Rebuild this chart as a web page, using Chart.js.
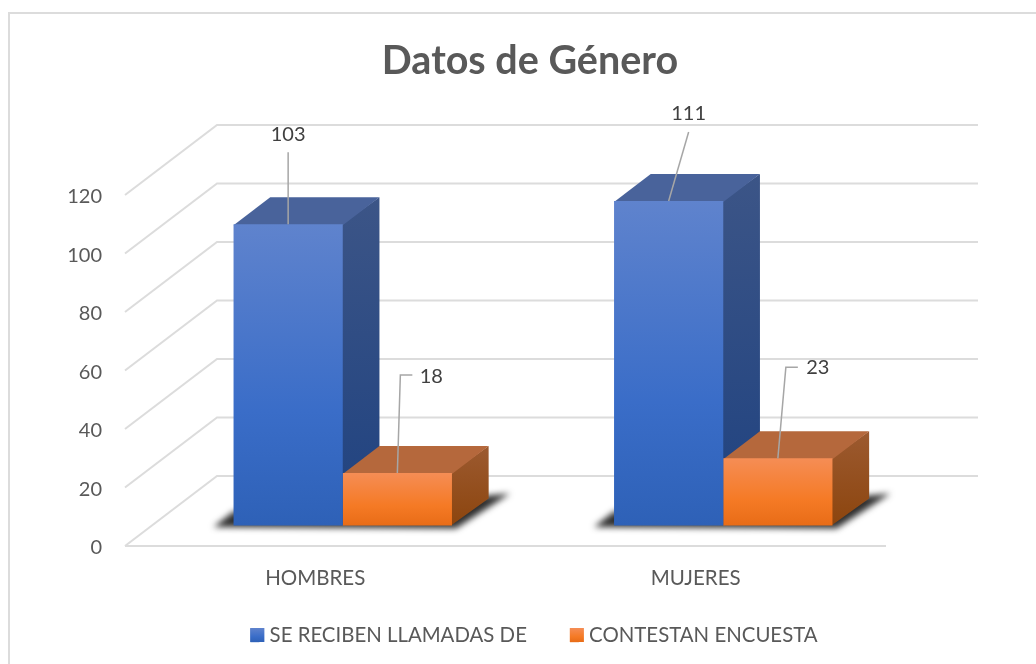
<!DOCTYPE html>
<html><head><meta charset="utf-8">
<style>html,body{margin:0;padding:0;background:#fff}canvas{display:block}</style>
<script src="https://cdn.jsdelivr.net/npm/chart.js@4"></script>
</head><body>
<div style="width:1036px;height:664px;position:relative"><canvas id="c" width="1036" height="664"></canvas></div>
<script>
const categories = ["HOMBRES", "MUJERES"];
const seriesNames = ["SE RECIBEN LLAMADAS DE", "CONTESTAN ENCUESTA"];
const llamadas = [103, 111];
const encuesta = [18, 23];
const yTicks = [0, 20, 40, 60, 80, 100, 120];
const chartTitle = "Datos de Género";

const FONT = "Lato";
const GRID = "#dcdcdc";
const wall = {dx: 92, dy: -70};
const bar3d = {tx: 27.5, ty: -20.4, d: 36.7, e: 27};
const legendBox = {top: 628, size: 14, nativeWidth: 9, pad: 43, height: 40};
const palette = [
  {stops: ["#5f83cd", "#3a6dc8", "#2e61b7"], top: "#49639b", side: ["#3c5587", "#1f4280"]},
  {stops: ["#f58d55", "#f57a25", "#e86c17"], top: "#b5683c", side: ["#9c5a30", "#8c450e"]}
];
// leader lines, relative to the top centre of each bar's front face
const leaders = [
  [{pts: [[0, 0], [0, -72]], label: [0, -90]}, {pts: [[0, 0], [20, -69]], label: [20, -87]}],
  [{pts: [[0, 0], [3, -98], [15, -98]], label: [34, -96]}, {pts: [[0, 0], [8, -91], [20, -91]], label: [40, -91]}]
];

function legendGradient(c, i) {
  const p = palette[i], g = c.createLinearGradient(0, legendBox.top, 0, legendBox.top + legendBox.size);
  g.addColorStop(0, p.stops[0]); g.addColorStop(0.62, p.stops[1]); g.addColorStop(1, p.stops[2]);
  return g;
}
function frontFill(i) {
  return function (ctx) {
    const c = ctx.chart.ctx, p = palette[i];
    let y0 = NaN, y1 = NaN;
    if (ctx.dataIndex !== undefined && ctx.chart.scales.y) {
      y0 = ctx.chart.scales.y.getPixelForValue(ctx.dataset.data[ctx.dataIndex]);
      y1 = ctx.chart.scales.y.getPixelForValue(0);
    }
    if (!Number.isFinite(y0) || !Number.isFinite(y1)) return legendGradient(c, i);
    const g = c.createLinearGradient(0, y0, 0, y1);
    g.addColorStop(0, p.stops[0]); g.addColorStop(0.62, p.stops[1]); g.addColorStop(1, p.stops[2]);
    return g;
  };
}
function poly(c, pts, fill) {
  c.beginPath(); pts.forEach((q, i) => i ? c.lineTo(q[0], q[1]) : c.moveTo(q[0], q[1]));
  c.closePath(); c.fillStyle = fill; c.fill();
}
const scene = {
  id: "scene",
  beforeLayout(chart) {
    const lg = chart.legend;
    if (!lg._fixed) {
      const f = lg.fit;
      lg.fit = function () { f.call(this); this.height = legendBox.height; };
      lg._fixed = true;
    }
  },
  afterLayout(chart) {
    const lg = chart.legend, t = chart.titleBlock, S = 91;
    lg.left += S; lg.right += S;
    lg.legendHitBoxes.forEach(h => { h.left += S; });
    lg.top = legendBox.top + legendBox.size / 2 - legendBox.pad - 10;
    t.left += 87; t.right += 87;
    chart.scales.y.getLabelItems(chart.chartArea).forEach(it => { it.options.translation[1] += 2; });
  },
  beforeDraw(chart) {
    const c = chart.ctx;
    c.save();
    c.fillStyle = "#fff"; c.fillRect(0, 0, chart.width, chart.height);
    c.strokeStyle = GRID; c.lineWidth = 2;
    c.beginPath(); c.moveTo(9, 664); c.lineTo(9, 13); c.lineTo(1036, 13); c.stroke();
    const y = chart.scales.y, a = chart.chartArea;
    yTicks.forEach(t => {
      const py = y.getPixelForValue(t);
      c.beginPath(); c.moveTo(a.left, py); c.lineTo(a.left + wall.dx, py + wall.dy);
      c.lineTo(a.right + wall.dx, py + wall.dy);
      if (t === 0) { c.moveTo(a.left, py); c.lineTo(a.right, py); }
      c.stroke();
    });
    c.restore();
  },
  beforeDatasetsDraw(chart) {
    const c = chart.ctx, m0 = chart.getDatasetMeta(0).data, m1 = chart.getDatasetMeta(1).data;
    c.save();
    c.filter = "blur(3px)";
    m0.forEach((b, i) => {
      const L = b.x - b.width / 2 + bar3d.tx, R = m1[i].x + m1[i].width / 2 + bar3d.tx, B = b.base + bar3d.ty;
      poly(c, [[L - 20, B + 1.5], [R + 4, B + 3], [R + 58, B - 32], [R + bar3d.d, B - bar3d.e - 3], [L, B - 14]], "rgba(35,35,35,.95)");
    });
    c.filter = "none";
    [0, 1].forEach(i => {
      const p = palette[i];
      chart.getDatasetMeta(i).data.forEach(b => {
        const l = b.x - b.width / 2 + bar3d.tx, r = b.x + b.width / 2 + bar3d.tx;
        const t = b.y + bar3d.ty, bt = b.base + bar3d.ty, d = bar3d.d, e = bar3d.e;
        const g = c.createLinearGradient(0, t - e, 0, bt);
        g.addColorStop(0, p.side[0]); g.addColorStop(1, p.side[1]);
        poly(c, [[r - 1, t], [r + d, t - e], [r + d, bt - e], [r - 1, bt]], g);
        poly(c, [[l, t + 1], [l + d, t - e], [r + d, t - e], [r, t + 1]], p.top);
      });
    });
    c.restore();
  },
  beforeDatasetDraw(chart) {
    chart.ctx.save();
    chart.ctx.translate(bar3d.tx, bar3d.ty);
  },
  afterDatasetDraw(chart) { chart.ctx.restore(); },
  afterDatasetsDraw(chart) {
    const c = chart.ctx;
    c.save();
    c.font = "20px " + FONT; c.textAlign = "center"; c.textBaseline = "middle";
    chart.data.datasets.forEach((ds, i) => {
      chart.getDatasetMeta(i).data.forEach((b, j) => {
        const x = b.x + bar3d.tx, y = b.y + bar3d.ty, L = leaders[i][j];
        c.strokeStyle = "#a6a6a6"; c.lineWidth = 1.5;
        c.beginPath();
        L.pts.forEach((q, k) => k ? c.lineTo(x + q[0], y + q[1]) : c.moveTo(x + q[0], y + q[1]));
        c.stroke();
        c.fillStyle = "#404040";
        c.fillText(String(ds.data[j]), x + L.label[0], y + L.label[1]);
      });
    });
    c.restore();
  },
  afterDraw(chart) {
    const c = chart.ctx;
    chart.legend.legendHitBoxes.forEach((h, i) => {
      c.fillStyle = legendGradient(c, i);
      c.fillRect(h.left, legendBox.top, legendBox.size, legendBox.size);
    });
  }
};

new Chart(document.getElementById("c"), {
  type: "bar",
  data: {
    labels: categories,
    datasets: [
      {label: seriesNames[0], data: llamadas, backgroundColor: frontFill(0), clip: false},
      {label: seriesNames[1], data: encuesta, backgroundColor: frontFill(1), clip: false}
    ]
  },
  options: {
    responsive: false, animation: false, borderWidth: 0,
    categoryPercentage: 0.574, barPercentage: 1,
    layout: {padding: {left: 0, right: 150, top: 0, bottom: 0}},
    scales: {
      x: {
        grid: {display: false, drawTicks: false}, border: {display: false},
        ticks: {font: {family: FONT, size: 20.5}, color: "#595959", padding: 20, maxRotation: 0},
        afterFit(s) { s.height = 78; }
      },
      y: {
        min: 0, max: 120,
        grid: {display: false, drawTicks: false}, border: {display: false},
        afterBuildTicks(s) { s.ticks = yTicks.map(v => ({value: v})); },
        ticks: {font: {family: FONT, size: 20}, color: "#595959", padding: 23},
        afterFit(s) { s.width = 125; }
      }
    },
    plugins: {
      title: {display: true, text: chartTitle, color: "#595959",
        font: {family: FONT, size: 39.5, weight: "bold", lineHeight: 1.2},
        padding: {top: 37.3, bottom: 110.3}},
      legend: {position: "bottom",
        labels: {font: {family: FONT, size: 20.4}, color: "#595959", boxWidth: legendBox.nativeWidth, boxHeight: legendBox.size, padding: legendBox.pad}},
      tooltip: {enabled: false}
    }
  },
  plugins: [scene]
});
</script>
</body></html>
